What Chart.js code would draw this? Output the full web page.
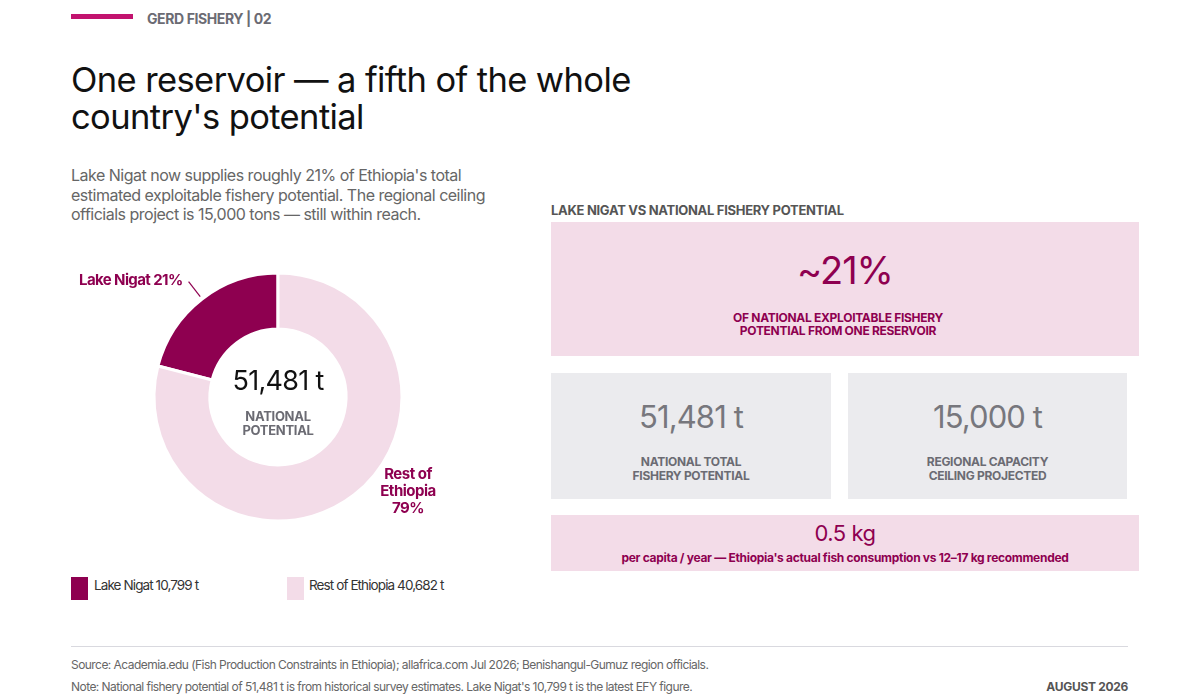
<!DOCTYPE html>
<html>
<head>
<meta charset="utf-8">
<script src="https://cdn.jsdelivr.net/npm/chart.js@4.4.0/dist/chart.umd.min.js"></script>
<style>
  html, body { margin: 0; padding: 0; background: #fff; }
  body { width: 1200px; height: 700px; position: relative; overflow: hidden; font-family: Inter, "Noto Sans", sans-serif; color: #1a1a1a; }
  .abs { position: absolute; white-space: nowrap; }
  .accent { left: 71px; top: 14px; width: 62px; height: 5px; background: #c2136f; }
  .kicker { left: 147px; top: 10px; font-size: 14px; font-weight: 700; color: #6b6b73; letter-spacing: -0.4px; }
  .title { left: 71px; font-size: 34.5px; line-height: 36px; font-weight: 400; letter-spacing: -0.6px; color: #111; }
  .sub { left: 71px; font-size: 16px; line-height: 20px; color: #666; letter-spacing: -0.5px; }
  #donut { left: 138px; top: 257px; }
  .center-big { left: 178px; top: 364px; width: 200px; text-align: center; font-size: 27px; color: #111; letter-spacing: -0.7px; }
  .center-lbl { left: 178px; width: 200px; text-align: center; font-size: 13px; line-height: 14.5px; font-weight: 700; color: #6b6b73; letter-spacing: -0.3px; }
  .lbl { font-size: 15px; font-weight: 700; color: #8e0050; letter-spacing: -0.5px; }
  .lbl-lake { left: 79px; top: 270px; letter-spacing: -0.6px; }
  .lbl-rest { left: 358px; text-align: center; width: 100px; line-height: 15px; }
  .leg-sw { width: 17px; height: 23px; }
  .leg-txt { font-size: 13.5px; color: #333; letter-spacing: -0.9px; }
  .panel-title { left: 551px; top: 202px; font-size: 13px; font-weight: 700; color: #555; letter-spacing: -0.3px; }
  .card { background: #f3dce8; }
  .grey { background: #ebebee; }
  .pct { font-size: 38px; color: #8e0050; letter-spacing: -1px; }
  .pink-lbl { font-size: 12px; font-weight: 700; color: #8e0050; text-align: center; letter-spacing: -0.3px; }
  .big-grey { font-size: 31px; color: #77777d; letter-spacing: -0.9px; }
  .grey-lbl { font-size: 12px; font-weight: 700; color: #6b6b73; text-align: center; letter-spacing: -0.3px; }
  .rule { left: 71px; top: 646px; width: 1057px; height: 1px; background: #d9d9df; }
  .foot { left: 71px; font-size: 12px; color: #666; letter-spacing: -0.55px; }
  .date { right: 72px; top: 679px; font-size: 12px; font-weight: 700; color: #555; letter-spacing: -0.3px; }
</style>
</head>
<body>
<div class="abs accent"></div>
<div class="abs kicker">GERD FISHERY | 02</div>
<div class="abs title" style="top:62px;">One reservoir — a fifth of the whole</div>
<div class="abs title" style="top:99px;">country's potential</div>
<div class="abs sub" style="top:165px;">Lake Nigat now supplies roughly 21% of Ethiopia's total</div>
<div class="abs sub" style="top:185px;">estimated exploitable fishery potential. The regional ceiling</div>
<div class="abs sub" style="top:204px;">officials project is 15,000 tons — still within reach.</div>

<canvas id="donut" class="abs" width="280" height="280"></canvas>
<div class="abs center-big" id="centerBig"></div>
<div class="abs center-lbl" style="top:409px;">NATIONAL</div>
<div class="abs center-lbl" style="top:423px;">POTENTIAL</div>
<div class="abs lbl lbl-lake" id="lblLake"></div>
<div class="abs lbl lbl-rest" style="top:466px;">Rest of</div>
<div class="abs lbl lbl-rest" style="top:483px;">Ethiopia</div>
<div class="abs lbl lbl-rest" id="lblRestPct" style="top:500px;"></div>

<div class="abs leg-sw" style="left:71px; top:577px; background:#8e0050;"></div>
<div class="abs leg-txt" id="leg0" style="left:94px; top:577px;"></div>
<div class="abs leg-sw" style="left:287px; top:577px; background:#f3dce8;"></div>
<div class="abs leg-txt" id="leg1" style="left:309px; top:577px;"></div>

<div class="abs panel-title">LAKE NIGAT VS NATIONAL FISHERY POTENTIAL</div>
<div class="abs card" style="left:551px; top:222px; width:588px; height:134px;"></div>
<div class="abs pct" id="pctBig" style="left:551px; top:247px; width:588px; text-align:center;"></div>
<div class="abs pink-lbl" style="left:544px; top:310px; width:588px;">OF NATIONAL EXPLOITABLE FISHERY</div>
<div class="abs pink-lbl" style="left:544px; top:323px; width:588px;">POTENTIAL FROM ONE RESERVOIR</div>

<div class="abs grey" style="left:551px; top:373px; width:280px; height:126px;"></div>
<div class="abs big-grey" id="natBig" style="left:551px; top:398px; width:280px; text-align:center;"></div>
<div class="abs grey-lbl" style="left:551px; top:454px; width:280px;">NATIONAL TOTAL</div>
<div class="abs grey-lbl" style="left:551px; top:468px; width:280px;">FISHERY POTENTIAL</div>

<div class="abs grey" style="left:848px; top:373px; width:279px; height:126px;"></div>
<div class="abs big-grey" id="ceilBig" style="left:848px; top:398px; width:279px; text-align:center;"></div>
<div class="abs grey-lbl" style="left:848px; top:454px; width:279px;">REGIONAL CAPACITY</div>
<div class="abs grey-lbl" style="left:848px; top:468px; width:279px;">CEILING PROJECTED</div>

<div class="abs card" style="left:551px; top:515px; width:588px; height:56px;"></div>
<div class="abs" id="capBig" style="left:551px; top:520px; width:588px; text-align:center; font-size:22px; color:#8e0050; letter-spacing:-0.5px;"></div>
<div class="abs pink-lbl" style="left:551px; top:550px; width:588px;">per capita / year — Ethiopia's actual fish consumption vs 12–17 kg recommended</div>

<div class="abs rule"></div>
<div class="abs foot" style="top:657px;">Source: Academia.edu (Fish Production Constraints in Ethiopia); allafrica.com Jul 2026; Benishangul-Gumuz region officials.</div>
<div class="abs foot" style="top:679px;">Note: National fishery potential of 51,481 t is from historical survey estimates. Lake Nigat's 10,799 t is the latest EFY figure.</div>
<div class="abs date">AUGUST 2026</div>

<script>
// data
const categories = ["Lake Nigat", "Rest of Ethiopia"];
const tonnes = [10799, 40682];
const share_pct = [21, 79];
const slice_colors = ["#8e0050", "#f3dce8"];
const national_total = 51481;
const regional_ceiling = 15000;
const per_capita_kg = 0.5;

const fmt = (n) => n.toLocaleString("en-US");

document.getElementById("centerBig").innerText = fmt(national_total) + " t";
document.getElementById("lblLake").innerText = categories[0] + " " + share_pct[0] + "%";
document.getElementById("lblRestPct").innerText = share_pct[1] + "%";
document.getElementById("leg0").innerText = categories[0] + " " + fmt(tonnes[0]) + " t";
document.getElementById("leg1").innerText = categories[1] + " " + fmt(tonnes[1]) + " t";
document.getElementById("pctBig").innerText = "~" + share_pct[0] + "%";
document.getElementById("natBig").innerText = fmt(national_total) + " t";
document.getElementById("ceilBig").innerText = fmt(regional_ceiling) + " t";
document.getElementById("capBig").innerText = per_capita_kg + " kg";

const total = tonnes[0] + tonnes[1];

// leader line from the Lake Nigat slice out to its label
const leaderLine = {
  id: "leaderLine",
  afterDatasetsDraw(chart) {
    const arc = chart.getDatasetMeta(0).data[0];
    const mid = (arc.startAngle + arc.endAngle) / 2;
    const r1 = arc.outerRadius + 3;
    const r2 = arc.outerRadius + 22;
    const c = chart.ctx;
    c.save();
    c.strokeStyle = "#8e0050";
    c.lineWidth = 1.2;
    c.beginPath();
    c.moveTo(arc.x + Math.cos(mid) * r1, arc.y + Math.sin(mid) * r1);
    c.lineTo(arc.x + Math.cos(mid) * r2, arc.y + Math.sin(mid) * r2);
    c.stroke();
    c.restore();
  },
};

new Chart(document.getElementById("donut"), {
  type: "doughnut",
  data: {
    labels: categories,
    datasets: [
      {
        data: tonnes,
        backgroundColor: slice_colors,
        borderColor: "#ffffff",
        borderWidth: 3,
        radius: 124,
        cutout: 76,
      },
    ],
  },
  options: {
    responsive: false,
    animation: false,
    rotation: (-360 * tonnes[0]) / total,
    layout: { padding: 0 },
    plugins: {
      legend: { display: false },
      tooltip: { enabled: false },
    },
  },
  plugins: [leaderLine],
});
</script>
</body>
</html>
